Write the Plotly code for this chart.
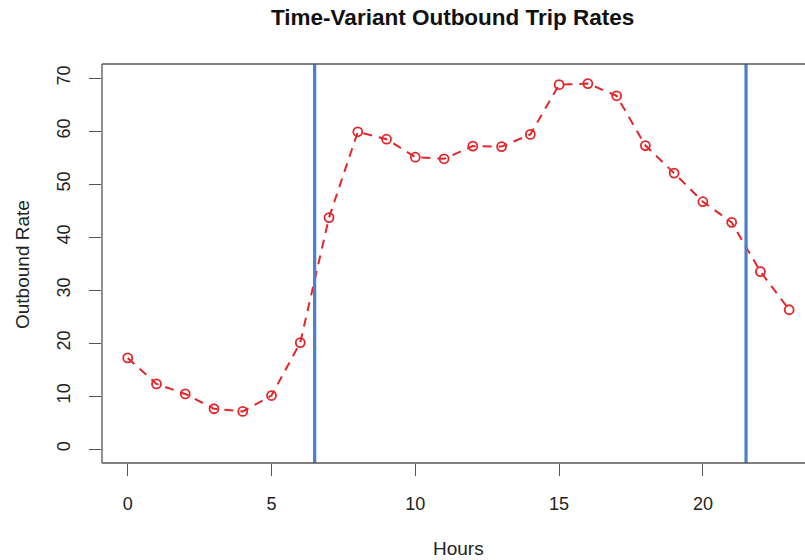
import plotly.graph_objects as go

# Hourly outbound trip rates
hours = list(range(24))
outbound_rate = [17.2, 12.3, 10.4, 7.6, 7.1, 10.1, 20.1, 43.7, 59.9, 58.5,
                 55.1, 54.8, 57.2, 57.1, 59.4, 68.8, 69.0, 66.7, 57.3, 52.1,
                 46.7, 42.8, 33.5, 26.3]

# Period boundaries (hours)
boundaries = [6.5, 21.5]

x_ticks = [0, 5, 10, 15, 20]
y_ticks = [0, 10, 20, 30, 40, 50, 60, 70]

RED = "#e3262b"
BLUE = "#4a80c4"
AXIS = "#555555"
FONT = "Liberation Sans, Arial, Helvetica, sans-serif"

fig = go.Figure()

fig.add_trace(go.Scatter(
    x=hours, y=outbound_rate, mode="lines+markers",
    line=dict(color=RED, width=2, dash="9px,7px"),
    marker=dict(symbol="circle-open", size=9, color=RED, line=dict(width=1.8, color=RED)),
    showlegend=False, hoverinfo="x+y",
))

for b in boundaries:
    fig.add_shape(type="line", xref="x", yref="paper", x0=b, x1=b, y0=0, y1=1,
                  line=dict(color=BLUE, width=3.2), layer="above")

# Plot frame: left, bottom and top edges
for x0, y0, x1, y1 in [(0, 0, 0, 1), (0, 0, 1, 0), (0, 1, 1, 1)]:
    fig.add_shape(type="line", xref="paper", yref="paper", x0=x0, y0=y0, x1=x1, y1=y1,
                  line=dict(color=AXIS, width=1.3), layer="above")

fig.update_layout(
    width=805, height=560,
    margin=dict(l=102, r=0, t=64, b=97),
    plot_bgcolor="white", paper_bgcolor="white",
    font=dict(family=FONT, size=18, color="#222222"),
    xaxis=dict(range=[-0.894, 23.55], tickvals=x_ticks, ticks="outside", ticklen=12,
               tickcolor=AXIS, tickwidth=1, showgrid=False, zeroline=False, showline=False,
               tickfont=dict(size=18, color="#222222"), ticklabelstandoff=12),
    yaxis=dict(range=[-2.64, 72.7], tickvals=y_ticks, ticks="outside", ticklen=12,
               tickcolor=AXIS, tickwidth=1, showgrid=False, zeroline=False, showline=False,
               tickangle=-90, tickfont=dict(size=18, color="#222222"), ticklabelstandoff=12),
    annotations=[
        dict(text="<b>Time-Variant Outbound Trip Rates</b>", xref="paper", yref="paper",
             x=(452 - 102) / 703, y=1 + (64 - 18) / 399, xanchor="center", yanchor="middle",
             showarrow=False, font=dict(size=22.5, color="#111111")),
        dict(text="Hours", xref="paper", yref="paper", x=(458 - 102) / 703,
             y=-(548 - 463) / 399, xanchor="center", yanchor="middle", showarrow=False,
             font=dict(size=19)),
        dict(text="Outbound Rate", xref="paper", yref="paper", x=(22 - 102) / 703,
             y=(463 - 265) / 399, xanchor="center", yanchor="middle", textangle=-90,
             showarrow=False, font=dict(size=19)),
    ],
)

fig.write_html("out.html")
